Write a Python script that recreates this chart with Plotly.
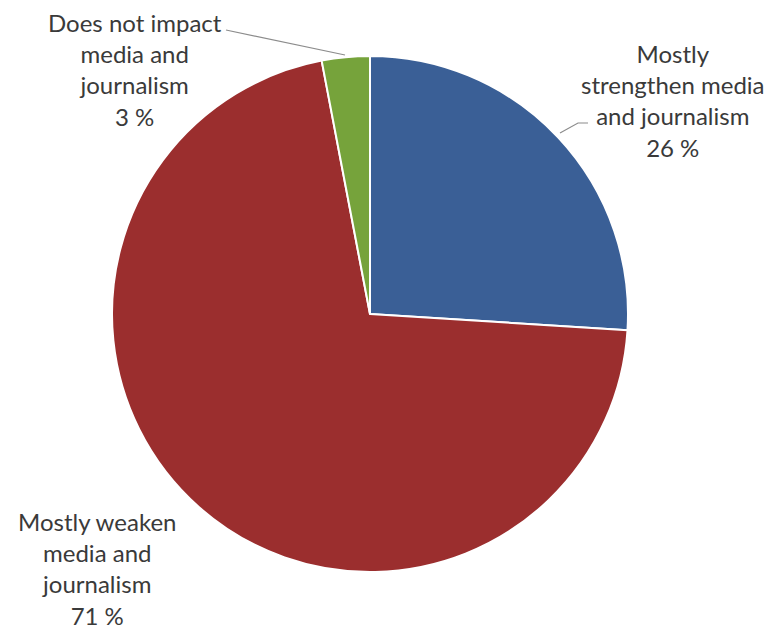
import plotly.graph_objects as go

labels = ["Mostly strengthen media and journalism", "Mostly weaken media and journalism", "Does not impact media and journalism"]
values = [26, 71, 3]
label_texts = ["Mostly<br>strengthen media<br>and journalism<br>26 %",
               "Mostly weaken<br>media and<br>journalism<br>71 %",
               "Does not impact<br>media and<br>journalism<br>3 %"]
colors = ["#3A5F96", "#9B2E2E", "#76A33B"]

W, H = 777, 633
def px(x): return x / W
def py(y): return 1 - y / H

fig = go.Figure(go.Pie(
    labels=labels, values=values, sort=False, direction="clockwise", rotation=0,
    marker=dict(colors=colors, line=dict(color="white", width=2)),
    textinfo="none", hoverinfo="label+percent", showlegend=False,
    domain=dict(x=[px(112), px(628)], y=[py(572), py(56)]),
))

font = dict(family="Lato, Carlito, sans-serif", size=24, color="#3a3a3a")
label_pos = [(673, 100), (97, 568), (135, 70)]
for (x, y), t in zip(label_pos, label_texts):
    fig.add_annotation(x=px(x), y=py(y), xref="paper", yref="paper", text=t,
                       showarrow=False, font=font, align="center",
                       xanchor="center", yanchor="middle")

leaders = [[(560, 133), (578, 123), (588, 123)], [(226, 30), (345, 55)]]
for pts in leaders:
    path = "M " + " L ".join(f"{px(a)},{py(b)}" for a, b in pts)
    fig.add_shape(type="path", path=path, xref="paper", yref="paper",
                  line=dict(color="#8c8c8c", width=1.2))

fig.update_layout(width=W, height=H, margin=dict(l=0, r=0, t=0, b=0),
                  paper_bgcolor="white", plot_bgcolor="white")
fig.write_html("out.html")
